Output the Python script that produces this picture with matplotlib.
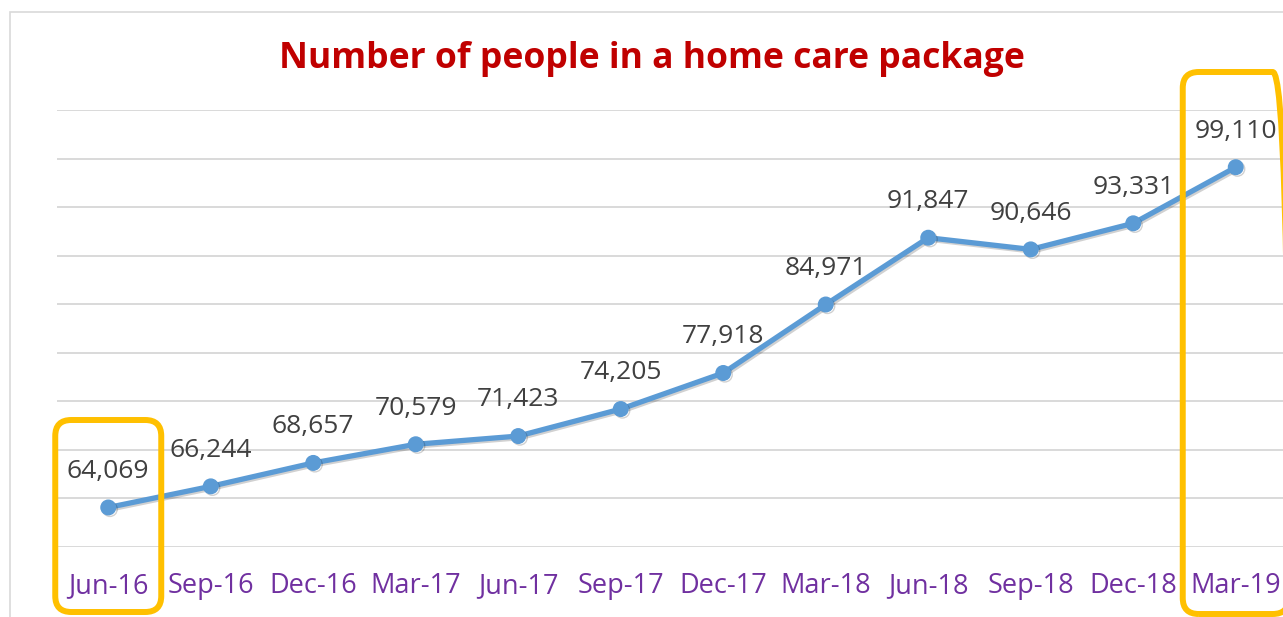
import matplotlib.pyplot as plt
import matplotlib.patheffects as pe
from matplotlib.patches import FancyBboxPatch, Rectangle
from matplotlib.transforms import IdentityTransform

quarters = ['Jun-16', 'Sep-16', 'Dec-16', 'Mar-17', 'Jun-17', 'Sep-17',
            'Dec-17', 'Mar-18', 'Jun-18', 'Sep-18', 'Dec-18', 'Mar-19']
people = [64069, 66244, 68657, 70579, 71423, 74205,
          77918, 84971, 91847, 90646, 93331, 99110]
highlight = [0, 11]  # quarters boxed in orange

plt.rcParams['font.family'] = ['Open Sans', 'DejaVu Sans']

W, H = 1283, 617
fig = plt.figure(figsize=(W / 100, H / 100), dpi=100)
ax = fig.add_axes([57 / W, 70 / H, 1230 / W, 437 / H])

x = list(range(len(quarters)))
ax.plot(x, people, color='#5B9BD5', lw=3.8, marker='o', ms=10.5,
        markerfacecolor='#5B9BD5', markeredgecolor='#5B9BD5', zorder=3,
        path_effects=[pe.SimpleLineShadow(offset=(1.2, -1.2), shadow_color='black', alpha=0.18),
                      pe.Normal()])

for xi, v in zip(x, people):
    ax.annotate(f'{v:,}', (xi, v), xytext=(0, 26), textcoords='offset points',
                ha='center', va='center', fontsize=19, color='#404040', zorder=4)

ax.set_xlim(-0.5, len(quarters) - 0.5)
ax.set_ylim(60000, 105000)
ax.set_yticks(range(60000, 105001, 5000))
ax.set_yticklabels([])
ax.tick_params(axis='y', length=0)
ax.set_xticks(x)
ax.set_xticklabels(quarters, color='#7030A0', fontsize=19.5)
ax.tick_params(axis='x', length=0, pad=18)
ax.grid(axis='y', color='#D9D9D9', lw=1.4)
ax.set_axisbelow(True)
for s in ax.spines.values():
    s.set_visible(False)

fig.text(652 / W, 558 / H, 'Number of people in a home care package',
         ha='center', va='center', fontsize=25.6, fontweight='bold', color='#C00000')

# outer chart border
fig.add_artist(Rectangle((10, -20), 1400, H - 12 + 20, transform=IdentityTransform(),
                         fill=False, edgecolor='#D9D9D9', lw=1.2, zorder=0))

# orange highlight boxes
spans = {0: (5, 197), 11: (3, 545)}
for i in highlight:
    cx = ax.transData.transform((i, people[i]))[0]
    y0, y1 = spans[i]
    fig.add_artist(FancyBboxPatch((cx - 53, y0), 106, y1 - y0,
                                  boxstyle='round,pad=0,rounding_size=16',
                                  transform=IdentityTransform(), fill=False,
                                  edgecolor='#FFC000', lw=4.3, joinstyle='round',
                                  zorder=5))

fig.savefig('out.png', dpi=100)
